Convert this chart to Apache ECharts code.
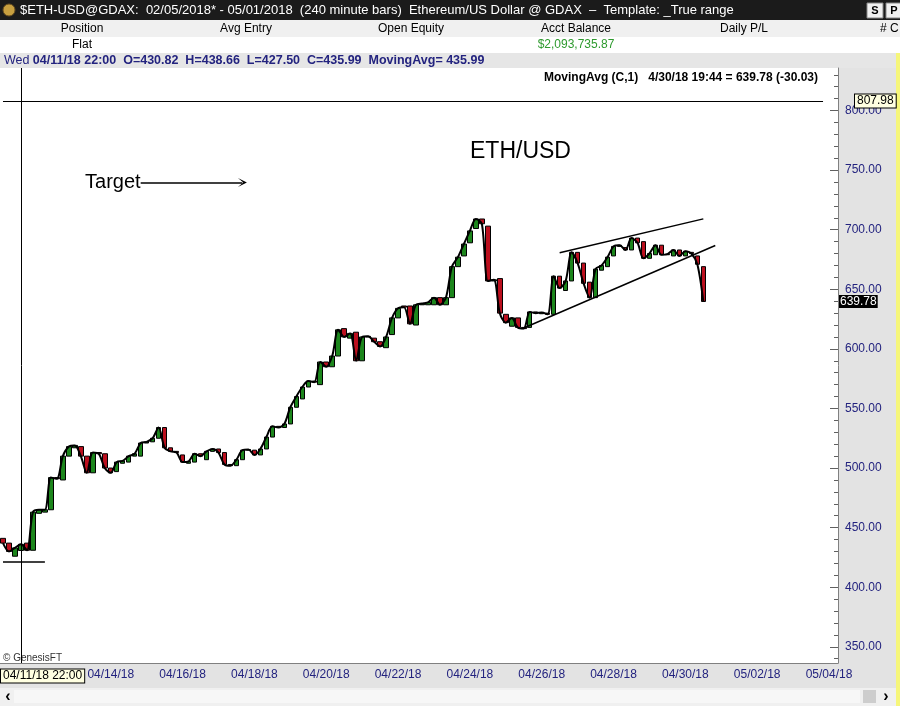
<!DOCTYPE html>
<html><head><meta charset="utf-8">
<script src="https://cdn.jsdelivr.net/npm/echarts@6/dist/echarts.min.js"></script>
<style>html,body{margin:0;padding:0;background:#fff;}#c{width:900px;height:706px;}</style>
</head><body><div id="c"></div>
<script>
// ---- data (240-minute bars, first 3 bars precede the 04/11/18 22:00 cursor bar) ----
const opens = [441,437,426,
 430.82,437,431,462,463,465,492,490,510,517,518,510,496,513,512,500,497,504,505,510,510,
 521,522,525,534,517,514,511,504,505,512,507,514,516,513,503,502,507,515,515,511,516,526,535,534,537,
 551,558,568,573,570,589,585,594,617,609,614,590,610,609,606,601,612,626,636,636,620,637,637,637,643,637,
 643,669,678,689,701,709,703,657,659,629,619,626,618,618,631,629.5,630,629,661,649,657,681,
 672,656,643,666,669,678,686,685,683,693,690,676,679,687,679,678,683,678,681,678,669];
const closes = [437,430,433,
 435.99,431,463,465,465,492,491,510,518,519,510,496,513,512,500,496,505,506,510,512,521,
 522,525,534,517,514,513,505,505.5,512,510,514,516,513,503,502,507,515,515.5,511,516,526,535,534,537,551,
 560,568,573,572,589,585,594,616,610,613,590,610,610.5,606,602,610,626,634,635,621,637,638,639,643,637,643,
 669,677,688,699,709,705,657,658,630,622,626,618,617,631,630,630.5,629,661,651,657,681,672,
 655,643,667,670,677,686,687,683,693,689,676,680,687,679,679.5,683,678,682,680,671,639.78];
const tickLabels = ['04/14/18','04/16/18','04/18/18','04/20/18','04/22/18','04/24/18','04/26/18','04/28/18','04/30/18','05/02/18','05/04/18'];
const yTickValues = [350,400,450,500,550,600,650,700,750,800];
const upperTrend = [[93,680.6],[117,709.1]];
const lowerTrend = [[87,617.5],[119,686.7]];
const levelLine = [[0,807.98],[137,807.98]];
const supportLine = [[0,421.7],[7,421.7]];
const targetArrow = [[23,739.6],[40,739.6]];
const cursorIndex = 3;
const lastPrice = 639.78;
const levelPrice = 807.98;

// ---- categories: 4-hour steps ----
const nCats = 140;
const startUTC = Date.UTC(2018,3,11,10);
const pad = n => (n<10?'0':'')+n;
const categories = [];
for (let i=0;i<nCats;i++){
  const d = new Date(startUTC + i*4*3600*1000);
  categories.push(pad(d.getUTCMonth()+1)+'/'+pad(d.getUTCDate())+'/'+String(d.getUTCFullYear()).slice(2)+' '+pad(d.getUTCHours())+':00');
}
const tickCats = new Set(tickLabels.map(t=>t+' 10:00'));
const minorTicks = [];
for (let v=340; v<=830; v+=10) minorTicks.push(v);

const candleData = opens.map((o,i)=>[o, closes[i], Math.min(o,closes[i]), Math.max(o,closes[i])]);

const NAVY = '#23237f';
const FONT = 'Liberation Sans, Arial, sans-serif';
const NARROW = 'Liberation Sans Narrow, Arial Narrow, Liberation Sans, sans-serif';
const YMIN = 336.4, YMAX = 835.7;

const chart = echarts.init(document.getElementById('c'), null, {renderer:'canvas'});
const option = {
  animation:false,
  backgroundColor:'#e3e3e3',
  grid:{left:-2,right:62,top:68,bottom:43,show:true,backgroundColor:'#ffffff',borderWidth:0},
  xAxis:{type:'category',data:categories,boundaryGap:true,
    axisLine:{lineStyle:{color:'#808080'}},axisTick:{show:false},
    axisLabel:{interval:(idx,val)=>tickCats.has(val),formatter:v=>v.slice(0,8),color:NAVY,fontSize:12,fontFamily:FONT,margin:6},
    splitLine:{show:false}},
  yAxis:[
    {type:'value',position:'right',min:YMIN,max:YMAX,
     axisLine:{show:true,lineStyle:{color:'#808080'}},
     axisTick:{show:true,inside:true,length:8,customValues:yTickValues,lineStyle:{color:'#606060'}},
     axisLabel:{customValues:yTickValues,formatter:v=>v.toFixed(2),color:NAVY,fontSize:12,fontFamily:FONT,margin:7},
     splitLine:{show:false}},
    {type:'value',position:'right',min:YMIN,max:YMAX,
     axisLine:{show:false},
     axisTick:{show:true,inside:true,length:4,customValues:minorTicks,lineStyle:{color:'#606060'}},
     axisLabel:{show:false},splitLine:{show:false}}
  ],
  series:[
    {type:'candlestick',data:candleData,barWidth:5,
     itemStyle:{color:'#1c861c',color0:'#bb0f1e',borderColor:'#000',borderColor0:'#000',borderWidth:1}},
    {type:'line',data:closes,smooth:0.3,symbol:'none',lineStyle:{color:'#000',width:2},z:3},
    {type:'line',data:[],z:4,
     markLine:{silent:true,symbol:'none',animation:false,label:{show:false},
       lineStyle:{color:'#000',width:1.5,type:'solid'},
       data:[
         [{coord:upperTrend[0]},{coord:upperTrend[1]}],
         [{coord:lowerTrend[0]},{coord:lowerTrend[1]}],
         [{coord:levelLine[0],lineStyle:{width:1}},{coord:levelLine[1]}],
         [{coord:supportLine[0]},{coord:supportLine[1]}],
         [{coord:[cursorIndex,YMIN],lineStyle:{width:1}},{coord:[cursorIndex,YMAX]}]
       ]}},
    {type:'line',data:[],z:4,
     markLine:{silent:true,animation:false,symbol:['none','path://M0,10 L5,0 L10,10 L5,4 Z'],symbolSize:[9,9],
       lineStyle:{color:'#000',width:1.5,type:'solid'},
       label:{show:true,position:'start',formatter:'Target',color:'#000',fontSize:20,fontFamily:FONT,distance:0},
       data:[[{coord:targetArrow[0]},{coord:targetArrow[1]}]]}}
  ]
};
chart.setOption(option);

const yLast = chart.convertToPixel({yAxisIndex:0}, lastPrice);
const yLevel = chart.convertToPixel({yAxisIndex:0}, levelPrice);

const hdrCols = [['Position',82],['Avg Entry',246],['Open Equity',411],['Acct Balance',576],['Daily P/L',744]];
const g = [];
// title bar
g.push({type:'rect',shape:{x:0,y:0,width:900,height:20},style:{fill:'#1b1b1b'}});
g.push({type:'circle',shape:{cx:9,cy:10,r:6},style:{fill:'#c8a040',stroke:'#6a5020'}});
g.push({type:'text',x:20,y:10,style:{text:'$ETH-USD@GDAX:  02/05/2018* - 05/01/2018  (240 minute bars)  Ethereum/US Dollar @ GDAX  \u2013  Template: _True range',fill:'#fff',font:'13px '+NARROW,verticalAlign:'middle'}});
g.push({type:'rect',shape:{x:867,y:3,width:16,height:15},style:{fill:'#f0f0f0',stroke:'#888'}});
g.push({type:'text',x:875,y:11,style:{text:'S',fill:'#000',font:'bold 11px '+FONT,align:'center',verticalAlign:'middle'}});
g.push({type:'rect',shape:{x:886,y:3,width:16,height:15},style:{fill:'#f0f0f0',stroke:'#888'}});
g.push({type:'text',x:894,y:11,style:{text:'P',fill:'#000',font:'bold 11px '+FONT,align:'center',verticalAlign:'middle'}});
// account header rows
g.push({type:'rect',shape:{x:0,y:20,width:900,height:17},style:{fill:'#f0f0f0'}});
hdrCols.forEach(([t,x])=>g.push({type:'text',x:x,y:29,style:{text:t,fill:'#000',font:'12px '+NARROW,align:'center',verticalAlign:'middle'}}));
g.push({type:'text',x:880,y:29,style:{text:'# C',fill:'#000',font:'12px '+NARROW,verticalAlign:'middle'}});
g.push({type:'rect',shape:{x:0,y:37,width:900,height:16},style:{fill:'#ffffff'}});
g.push({type:'text',x:82,y:45,style:{text:'Flat',fill:'#000',font:'12px '+NARROW,align:'center',verticalAlign:'middle'}});
g.push({type:'text',x:576,y:45,style:{text:'$2,093,735.87',fill:'#2e9a2e',font:'12px '+NARROW,align:'center',verticalAlign:'middle'}});
// info row
g.push({type:'rect',shape:{x:0,y:53,width:900,height:15},style:{fill:'#e6e6e6'}});
g.push({type:'text',x:4,y:61,style:{text:'{n|Wed} {b|04/11/18 22:00  O=430.82  H=438.66  L=427.50  C=435.99  MovingAvg= 435.99}',verticalAlign:'middle',
  rich:{n:{fill:NAVY,font:'12.5px '+NARROW},b:{fill:NAVY,font:'bold 12.5px '+NARROW}}}});
// right yellow strip
g.push({type:'rect',shape:{x:896,y:53,width:4,height:653},style:{fill:'#f6f67a'}});
// legend in chart
g.push({type:'text',x:818,y:78,style:{text:'MovingAvg (C,1)   4/30/18 19:44 = 639.78 (-30.03)',fill:'#000',font:'bold 12px '+NARROW,align:'right',verticalAlign:'middle'}});
g.push({type:'text',x:470,y:152,style:{text:'ETH/USD',fill:'#000',font:'23px '+FONT,verticalAlign:'middle'}});
g.push({type:'text',x:3,y:658,style:{text:'\u00a9 GenesisFT',fill:'#333',font:'10px '+NARROW,verticalAlign:'middle'}});
// price boxes on axis
g.push({type:'text',x:855,y:yLevel,z:10,style:{text:levelPrice.toFixed(2),fill:'#000',font:'12px '+FONT,verticalAlign:'middle',backgroundColor:'#ffffe1',borderColor:'#000',borderWidth:1,padding:[1,2,0,2]}});
g.push({type:'text',x:839,y:yLast,z:10,style:{text:lastPrice.toFixed(2),fill:'#fff',font:'12px '+FONT,verticalAlign:'middle',backgroundColor:'#000',padding:[1,1,0,1]}});
// cursor date box
g.push({type:'text',x:1,y:676,z:10,style:{text:'04/11/18 22:00',fill:'#000',font:'12px '+FONT,verticalAlign:'middle',backgroundColor:'#ffffe1',borderColor:'#000',borderWidth:1,padding:[1,2,0,2]}});
// scrollbar
g.push({type:'rect',shape:{x:0,y:688,width:896,height:18},style:{fill:'#f0f0f0'}});
g.push({type:'rect',shape:{x:14,y:690,width:846,height:13},style:{fill:'#f7f7f7'}});
g.push({type:'rect',shape:{x:863,y:690,width:13,height:13},style:{fill:'#cdcdcd'}});
g.push({type:'text',x:8,y:697,style:{text:'\u2039',fill:'#000',font:'bold 16px '+FONT,align:'center',verticalAlign:'middle'}});
g.push({type:'text',x:886,y:697,style:{text:'\u203a',fill:'#000',font:'bold 16px '+FONT,align:'center',verticalAlign:'middle'}});
chart.setOption({graphic:{elements:g}});
</script></body></html>
